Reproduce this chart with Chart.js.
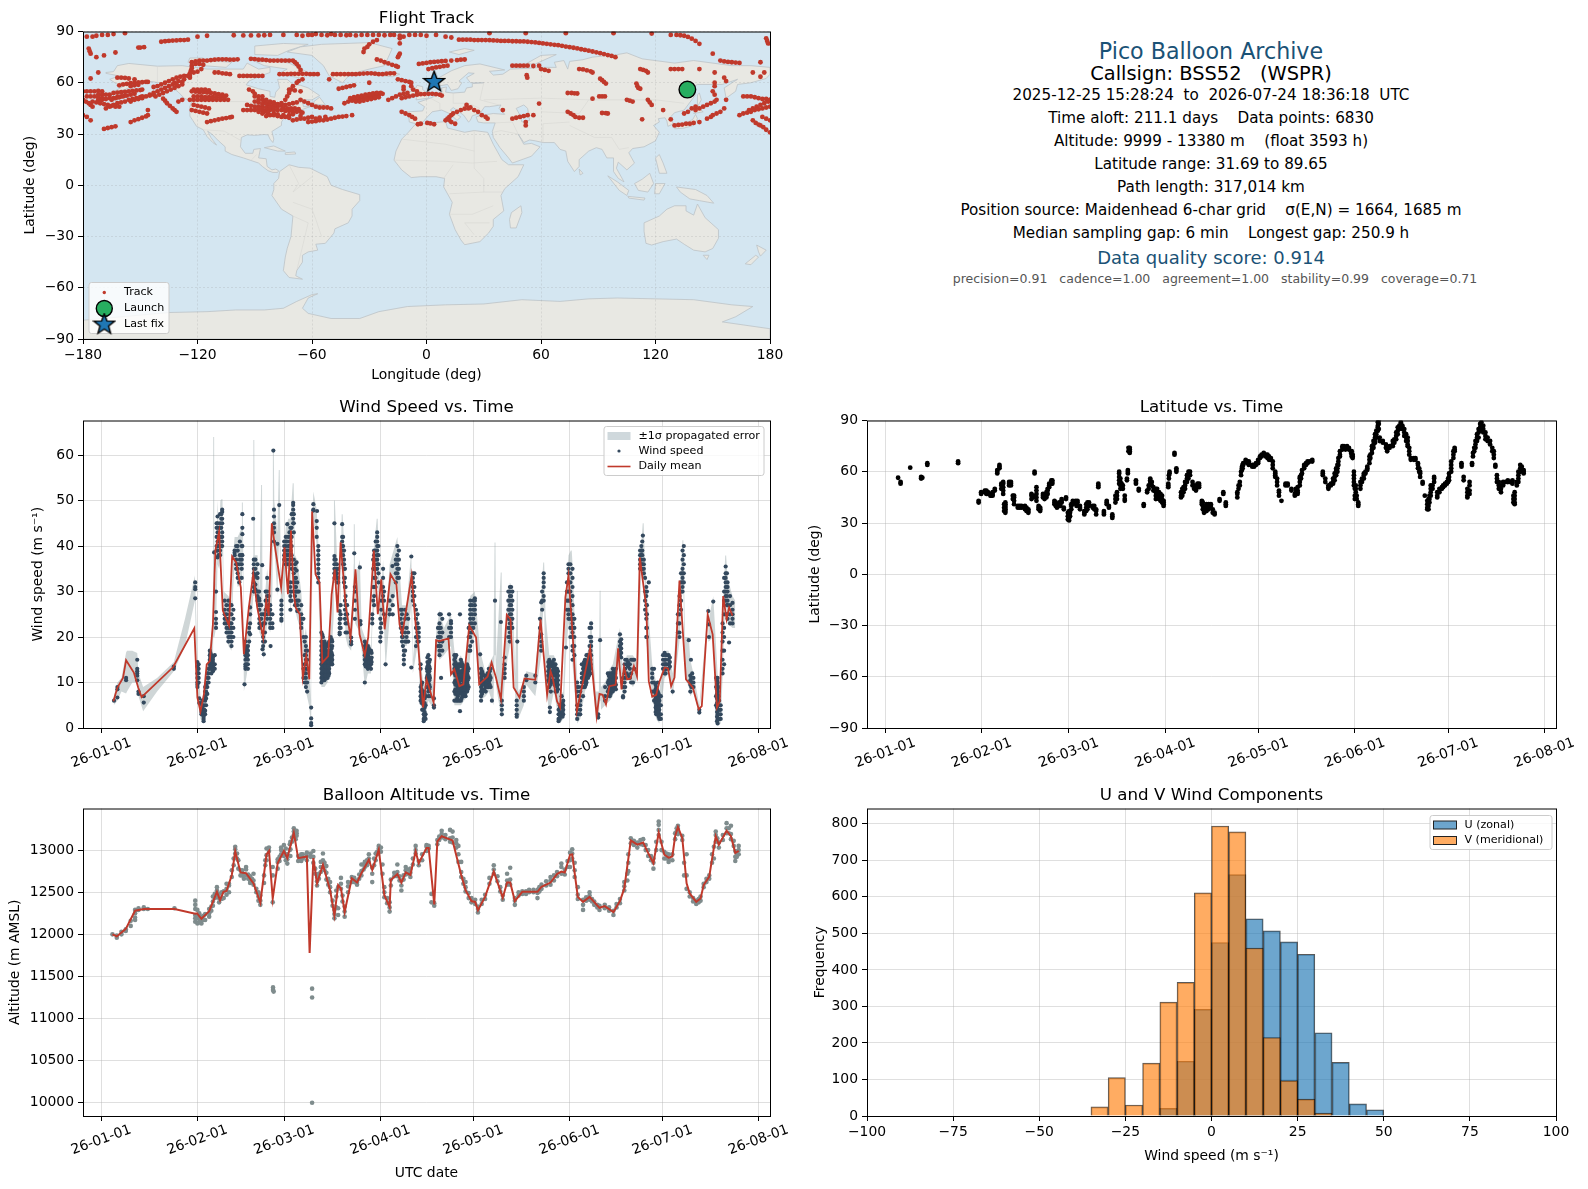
<!DOCTYPE html>
<html>
<head>
<meta charset="utf-8">
<title>Pico Balloon Archive</title>
<script src="https://cdn.jsdelivr.net/npm/chart.js@4"></script>
<style>
  html, body { margin: 0; background: #fff; }
  body { position: relative; width: 1588px; height: 1189px; overflow: hidden; font-family: "DejaVu Sans", sans-serif; }
  canvas { position: absolute; }
  .info { position: absolute; left: 1211px; transform: translate(-50%, -50%); white-space: pre; color: #000; font-size: 15.2px; }
</style>
</head>
<body>
<div class="info" style="top:51px;font-size:22.2px;color:#1a5276">Pico Balloon Archive</div>
<div class="info" style="top:73px;font-size:19.4px">Callsign: BSS52   (WSPR)</div>
<div class="info" style="top:95px">2025-12-25 15:28:24  to  2026-07-24 18:36:18  UTC</div>
<div class="info" style="top:118px">Time aloft: 211.1 days    Data points: 6830</div>
<div class="info" style="top:141px">Altitude: 9999 - 13380 m    (float 3593 h)</div>
<div class="info" style="top:164px">Latitude range: 31.69 to 89.65</div>
<div class="info" style="top:187px">Path length: 317,014 km</div>
<div class="info" style="top:210px">Position source: Maidenhead 6-char grid    σ(E,N) = 1664, 1685 m</div>
<div class="info" style="top:233px">Median sampling gap: 6 min    Longest gap: 250.9 h</div>
<div class="info" style="top:257px;font-size:18px;color:#1a5276">Data quality score: 0.914</div>
<div class="info" style="top:278px;left:1215px;font-size:12.5px;color:#555">precision=0.91   cadence=1.00   agreement=1.00   stability=0.99   coverage=0.71</div>

<script>
// ---- axis ticks
const monthTicks = [0, 31, 59, 90, 120, 151, 181, 212];
const monthLabels = ["26-01-01", "26-02-01", "26-03-01", "26-04-01", "26-05-01", "26-06-01", "26-07-01", "26-08-01"];
const lonTicks = [-180, -120, -60, 0, 60, 120, 180];
const latTicks = [-90, -60, -30, 0, 30, 60, 90];
const windTicks = [0, 10, 20, 30, 40, 50, 60];
const altTicks = [10000, 10500, 11000, 11500, 12000, 12500, 13000];
const histXTicks = [-100, -75, -50, -25, 0, 25, 50, 75, 100];
const histYTicks = [0, 100, 200, 300, 400, 500, 600, 700, 800];

// ---- histogram (5 m/s bins)
const binCenters = [-32.5, -27.5, -22.5, -17.5, -12.5, -7.5, -2.5, 2.5, 7.5, 12.5, 17.5, 22.5, 27.5, 32.5, 37.5, 42.5, 47.5];
const uCounts = [0, 0, 0, 0, 21, 150, 292, 475, 661, 540, 507, 477, 443, 228, 147, 33, 17];
const vCounts = [25, 105, 30, 145, 312, 366, 611, 794, 778, 460, 215, 97, 46, 8, 0, 0, 0];

// ---- wind speed: daily mean
const windMeanDays = [3.9,5.2,7,8,10.5,11.9,13,23.2,30,31,32,33.1,34,35,36,36.8,38,39.2,41.2,42.2,43.5,45,46,47.6,49,50.3,52.2,53.2,54,55,56.2,58,59.1,60.2,61.2,62.1,62.7,64,65,66.1,67.1,68,69.1,70.4,71.3,73.2,74.3,75.3,76.2,77.2,78.8,80.4,82,83.3,85,86.1,87.9,89.2,90.3,91.4,93.3,95.2,96.2,97.1,100.1,101.4,102.2,103.8,104.9,107.2,108,109.1,112,112.8,113.9,115.5,116.8,118.7,120.9,121.9,124.6,125.9,127.3,128.9,130.8,132,133,134.9,136.5,140,141.7,143.8,144.9,145.6,147,148,149.7,150.7,152.1,153.4,155,157.7,159.8,160.7,161.7,162.8,163.9,165.9,166.7,167.8,168.6,169.6,170.7,171.8,172.8,173.7,175.8,176.6,177.7,179,180.1,181.7,182.8,183.8,184.9,186.5,188.6,190.8,192.7,193.7,195.6,197.2,198.6,199.5,200.6,201.7,202.5,203.6];
const windMean = [5.9,8.9,11,14.9,12.2,8.9,6.8,13.4,21.9,6.7,3.6,7.4,14,14.7,22.8,39,43.2,25.8,22.5,37.7,36.4,30.9,16.2,26.5,33.8,26.5,19.9,28,24.7,45,39,30.9,39.7,29.4,43.4,29.4,26.5,25,11.1,15.8,10.7,47.6,33.8,32,14.4,15.8,29.4,34.9,25.4,40.8,27.2,19.9,34.9,20.6,16,19.9,39,25,32.7,21.7,33.8,31.6,22.8,20.6,33.5,22.8,18.4,4.5,10.7,5.6,19.3,19.1,19.7,11.8,12.9,9.2,9.6,22.5,19.9,9.6,11.3,14.4,11.1,6.3,24.9,23.9,8.9,6.7,10.9,10.6,23.9,7.3,12.5,11.1,5.9,4.5,28.7,33.5,19.9,3.7,8.9,17.5,2.6,7.5,7.3,5.2,9.2,9.5,17.5,8.5,13.4,10.7,10.9,13.6,11.4,37.5,26.5,10.3,6.9,7.3,10.3,13.3,13.1,9.2,11.1,32.4,10.7,8.9,4.1,4.8,24.9,20.6,4.5,5.9,29,23.9,26.5,24.7];

// ---- wind speed: +/-1 sigma band, each row: day, low, high
const windBand = [
[4,5,7],[5.2,6,10],[6.5,8,11],[8,7.6,16.6],[8.3,8,17],[10,10,17],[11.6,10,16.5],[12,7,12],[13.5,3.7,9],[18,8,11],[23.4,12.5,14.5],[27,18,24],[30.2,28,33.5],[30.6,18,25],[31,8,15.5],[32,2,7],[33,1,5],[34,6,13],[35,12,18],[36,13,23],[36.1,20,64],[36.4,20,64],[36.5,20,30],[37,22,34],[37.5,36,50],[38,35,42],[38.4,38,50],[38.8,38,50.3],[39.1,38,50.3],[39.5,24,30],[41,18,29],[42,17,28],[42.5,30,38],[43,36,42],[44,31,42],[45.3,32,44],[45.35,32,49.6],[45.65,37,49.6],[46,8,20],[47,12,20],[48,19,28],[49,29,38],[49.05,29,63.3],[49.35,29,63.3],[49.5,30,38],[50.4,26,38],[51,21,30],[51.55,20,53.4],[51.85,20,53.4],[52,20,26],[52.4,15,26],[53.5,23,35],[54.5,21,28],[55.2,30,44],[55.35,40,61],[55.65,40,61],[55.8,40,50],[56.8,29,43],[57.25,40,56.7],[57.55,40,56.7],[57.7,35,45],[58.1,22,30],[59.5,35,44],[60.3,35,46],[61,25,46],[61.75,44,53.8],[62.05,44,53.8],[62.5,26,38],[63.2,24,37],[64.5,21,30],[65.5,12,20],[66,8,22],[67,5,16],[67.7,0.5,6],[68,30,45],[68.4,46,52],[69.5,40,48],[70,31,41],[70.7,15,25],[71,9,22],[72,9,20],[73,10,19],[74,13,21],[75,25,36],[75.05,32,50],[75.35,32,50],[76,31,38],[76.9,20,27],[77.55,38,47],[77.85,38,47],[78.3,31,41],[78.8,20,33],[79.5,18,25],[80.6,17,21],[81.4,25,36],[81.45,30,44.8],[81.75,30,44.8],[81.9,23,33],[83.4,21,37],[84,17,22],[85,9,20],[86,12,19],[87,12,18],[87.4,22,26],[88,26,40],[88.85,34,46],[89.15,34,46],[90,18,26],[90.9,28,37],[91.7,13,22],[93,24,36],[95.5,32,42],[97,18,27],[98.5,18,27],[100,27,39],[100.5,12,15],
[102,18,26],[103,5,15],[104,1,9],[105.5,6,17],[107.3,4,8],[108,17,21],[109.1,15,26],[110.5,16,22],[112.8,18,25],[113.9,5,17],[115,5,15],[116,5,16],[117,6,14],[118,7,15],[119,16,29],[120.5,22,30],[122.2,6,17],[124,7,12],[125,8,14],[126.5,5,16],[126.85,16,40.8],[127.15,16,40.8],[127.4,9,15],[128.85,3,34.2],[129.15,3,34.2],[129.4,3,8],[130.1,10,17],[131,15,28],[131.8,18,32],[132.6,21,31],[133.5,7,12],[134.05,2,30.2],[134.35,2,30.2],[134.5,2,8],[136.3,5,10],[137.1,9.5,12.5],[140,7,12],[141.9,16,29],[142.55,26,36.4],[142.85,26,36.4],[143.3,10,25],[144.5,3,16],[146,8,16],[147,4,14],[148,1,7],[149,2,8],[149.9,16,29],[150.7,23,38],[151.45,20,39],[151.75,20,39],[152,14,36],[153.5,1,11],[154.5,2,9],[156,8,16],[157,10,17],[158,15,24],[159.5,2,8],[160.5,2,8],[160.75,6,30.2],[161.05,6,30.2],[161.2,4,9],[162.5,5,10],[164,6,13],[165,7,14],[167.3,15,22],[168.3,6,12],[169.5,11,16],[171.5,9,16],[173,11,14],[174.2,34,41],[174.65,33,45],[174.95,33,45],[175.3,32,38],[175.8,19,32],[177.7,7,14],[179,2,10],[180,1,8],[181.7,11,17],[183,12,17],[184.3,7,12],[186.5,19,30],[187.45,30,41.3],[187.75,30,41.3],[188.3,11,20],[189.5,9,20],[190,7,15],[191,8,12],[192.9,3,5],[195.8,24,27],[196,19,24],[197.4,20,29],[198.8,0.5,12],[199.8,1,6],[200.4,11,24],[201.25,27,37.9],[201.55,27,37.9],[202,23,33],[203.6,22,29],[204.5,22,28]
];

// ---- wind speed observations, each row: day, then the speeds seen on that day
const windObs = [
[4.1,6],[5.2,6.7,8.5,9],[8,10.5,11],[11.6,15,13,12.5,12,11.5,10.5],[12,8,7.5],[13.7,5.6,7],[23.4,13,13.5],
[30.3,32,31,30.5,28.5],[31,14.5,13.5,12,11,10,9.5,9],[31.6,6.5,5.5],[32.3,5.5,4,3.5,3],[33,3,2,1.5,2.5],[33.5,3,3.8,6,7,8,9],[34.2,7.5,9,10,11,12],[35,13,14,15,16,17],[36,12.5,13.5,15,15.5,14.5],[37,22,23,24,25.5,30],[36.4,38.6],
[37.5,37.5,39,40,41,43,46.5,45],[38.3,38,39,41,42,44,45,47],[39,45,46,47.5,48,43,42,41,40],[39.8,28,26,25,24,23],[41,28,26,24,22,21,20,19],[42,27,25,23,22,21,20,19,18],[43,38,39,38.5],[44,40,39,36,35,34,33],[45.3,40,38,37,36,35,33],[45.5,47,44,42.6,40,38],[44.5,32],
[46.2,9.6],[46.5,13,13.5,14,15,16,17,18,19],[47.3,13,14,15,16,17,18],[48,20.6,23,25,26.5],[49,46],[49.2,37,36,35,34,33,32,31,30],[50.4,36,34,33,30,29,28],[51,28,27,26,24,23,22],[52.2,25,23,21,20,19,18],[52,17.3],[51.9,35.8],[52.4,16.2],[54.6,18],
[53.5,33,30,29,28,26,25,24],[54.5,27,26,25,24,23,22],[55.5,61],[55.7,48,46.5,45,44,43,41],[57.4,49],[56.8,40.5,30.4],[58.1,28,27,26,25,24,23.6],[59.5,42,41,40,39,38,37,36],[60.3,42,40,39,38,36],[61,44,43,42,41,40,39,38,37,36,32,31,30,29,28,26],[60,44.8],[61.9,49.5,49,48,47,46,45],[62.5,36,35,33,32,31,30,29,27],[63,36.4,34.6],[63.2,32,30,28,27,25.7],[64.5,27,25,24,23,22],
[66,20,18,17,16,15,14,13,12,11,10,9],[67.7,4.5,2.1,1.1,0.6],[68.4,49.2,48,47.8],[69.6,47.7],[69.5,45.5,44,42],[70,40,39,38,37,36,35,34,33,32],
[71,21,19,18,17,16,15,14,13,12,11,10],[72,19,17,16,15,14,13,12,11,10.5],[73,18,16,15,14,13,12,11],[74,20,19,18,17,16,15,14],[75.2,45,37.8,37,36,35,34,33],[76,36,35,34,33,32],[76.9,25.7,24,23,22,21,20.6],[77.7,44.8,42,41,40,39],[78.3,39,37,36,35,33,32],[78.8,31,29,27,25,23,21],[80.6,19.9,19,18.4],[81.6,38.4],[81.8,31,30,28,26,24],[83.4,35.3],[83.6,23.5,22.8],
[85,19,18,17,16,15,14,10],[86,18,16,15,14,13],[87,17,15,14,13],[87.4,25,24,23],[88,39,38,37,36,35,33,31,29,27],[89,43,42,41,40,39,38,37,36,35],[90,24,22,20,19],[91.7,14],[90.9,35,33,31,29],[93,28,26,25],[95.5,40,38,37,36,35,34,33],[93.9,35.6],
[97,26,25,23,22,21,20,19],[98.5,25,22,20,19],[97.6,17,16,15,14],[100,37.7,13.3],[100.5,34,33,32,31,30,29,28],[102,25,23,22,21,20,19],
[102.4,22,21,20,19],[103,14,13,9,8,7,6],[104,8,7,5,4,3,2,1.5],[105.5,16,14,13,12,11,10,9,8,7],[107.3,6.5,5,4.5],[109.1,25,23,22,21,20,19,18,17,16],[109.6,11],[112.8,23.5,23,22,21,20],
[113.9,16,15,14,13,12,10,8,6],[115,14,13,12,11,10,9,8,7,6],[116,15,14,12,11,9,8,6],[117,13,12,11,10,9,8,7],[118,14,13,12,10,8],[115.7,25,3.7],[119,28,27,26,25,24,23,22,21,20,18,17],[120.5,28.5,28,27,26,25,23],[122.2,16.2],
[122.5,13,12,11,10,9,8,7,6],[124,11,10,9,8],[125,13,12,11,10,9],[127,28],[126,6],[128.9,23.3],[129.2,6,5,4,3],[130.1,15.5,14,13,12,11],[131.8,31,30,29,28,27,26,25,24,23,22,21,20,19],[132.6,30,28,26,24,22],[134.2,19],[134,6,5,4,3,2.5],[136.3,9,8,7,6],[137.1,11.5,10.5],[140,11.5,10],
[141.9,27.6,20.6,19,18,17],[142.7,34,33,32,31,29,28],[144.5,15,14,13,12,11,10,9],[144.7,4.5,3.5],[146,15,14,13,12,10],[147,13,12,11,10,9,8],[147.5,4,3,2,1.5],[149,6,5,4,3],[149.9,17.7],[150.7,36,35,34,32,30,28,26,25,24],[152,35,33,31,29,27,25,24,23,22,21,20,18,17,15],
[153.5,10,9,8,5,4,3,2],[154.5,8,6,5,4,3],[156,15,14,13,12,11,10,9],[157,16,15,14,13,12,11],[158,23,22,20,19,18,16],[160.9,19.3],[160.3,2.3,3],[162.5,9,7,6],[164,12,11,10,9,8,7],[165,13,12,11,10,9,8],[167.3,20.6,19,18,17,16],[168.3,11,9,7,6.7],[169.5,15,14,12],[171.5,15,10],
[174.2,40,39,38,37,36,35],[174.7,42.3],[175,37,36,35,34],[175.8,31,29,27,25,24,22,20],[176.6,32],[177.7,13,12,11,10,8],[179,9,8,7,6,5,4,3],[180,7,6,5,4,3,2],[181.7,16.5,15,14,13,12],[183,16,15,14,13],[184.3,8],
[186.5,29,27,25,23,21,20],[187.5,39,37,35,34,33,32,31,30],[189.5,19.3],[190.2,15],[190,11.5,10.5,9.5,8],[191,11,10,9],[192.9,3.4,4],[195.8,25.7],[197.4,27.8],[196,22.8,20],[198.8,11,10,8,6,5,4,3,2,1],[199.8,5,4,3,2],[200.4,23,21,19,17,15,13,12],[201.4,35.5,34,33,32,31,30,29,28],[202,32,31,30,28,27,25,24],[202.5,18.8],[203.6,27.5,26,25,24,23],
[31.4,14,13,12,11,10],[32.6,6,5,4.5],[33.2,4,3.5,5],[33.8,5,6.5,8,9.5],[34.6,10,11,12,13],[35.5,12,13,14,15,16],[36.6,13,14,16],[37.2,39,40,42,44,45],[37.8,38,40,41,42,44],[38.7,44,46,47,42,40],[40.4,27,25,24,23,22,21],[41.5,27,25,23,22,21,20],[42.6,26,24,22,20],[43.5,40,37,36,35],[44.7,41,38,37,36],[46.9,14,15.5,16.5,17.5],[47.7,19,21,22],[49.7,37,35,33.5,31.5,30.5],[50.9,30,28.5,27],[51.6,27,25,24,22.5],[52.8,25,23,21,19],[53,30,28,26],[54,29,27,25.5],[55.2,25,23,22],[59,41,40,39,38,37],[59.9,41,39,38,37,36],[60.7,43,41,40,38,37],[61.4,47,44,42,40,38,35,30,28],[62.1,47,45,43,37,34,32],[62.8,33,31,30,28],[63.7,30,28,26],[65.2,24,20,13,11],[65.6,19,16,14,12,10],[66.4,13,15,17,10,8],[71.5,20,18,17,16,15,14,13,12,11],[72.5,18,17,16,14,13,12,11],[73.5,19,17,16,15,14,13,12],[74.5,19,18,16,15,14],[75.6,37,36,34.5,33.5],[76.4,35,33,32],[77.2,27,25,24,22],[78,42,40,38,36],[78.6,35,33,31,28,26,24],[79.3,27,25,23,21],[85.5,18,17,16,15,14],[86.5,17,15.5,14.5,13.5],[87.7,37,35,31,28],[88.5,41,39,37,35,33,31],[89.4,40,38,36,34,32],[90.3,28,26,23,21],[91.2,30,28,25],[94,29,27,25],[95,37,36,34,32],[96,39,37,35,33],[96.6,26,24,22],[97.3,22,20,18],[98,26,24,21,19,17],[99,24,21,19],[101,34,31,29,27],[101.5,26,24,22,20,18],[103.5,10,8,6,4],[104.6,7,5,3,2],[105,13,11,9],[106,15,13,11,9,7],[108.6,22,20,18],[109.5,25,22,20,18],[110,24,21,19,17],[112.2,25,22,20],[114.5,16,14,12,10,8,6],[115.5,14,12,10,8,6],[116.5,14,12,11,9,7],[117.5,13,11,9,7],[118.5,22,20,17,13,11,9],[119.6,27,25,23,21,19],[120,28,26,24,22],[123,12,10,8],[124.6,12,10,9],[125.6,13,11,9],[131.3,30,28,26,24,22,20],[132.2,31,29,27,25,23],[141.5,24,22,20],[142.2,30,28,26],[145,14,12,10,8],[146.5,14,12,10,8],[147.9,5,3,2],[148.5,7,5,3],[150.2,32,30,28,26],[151.3,36,34,32,30,28,26,24,22,20],[152.6,24,22,20,18,16],[154,9,7,5,3],[155.4,7,9,11,13],[156.5,16,14,12,10],[157.5,22,20,18,16,14],[163.4,8,10,12],[164.6,12,10,8],[165.7,12,10,9],[168.8,14,12,10,8],[170.5,14,13,11],[173.8,38,37,36,35,39],[174.5,41,39,38,36,35],[175.4,33,30,28,26],[176,30,27,25,22,20],[178.3,13,10,8,6],[179.5,10,8,6,4,3],[180.5,7,5,3,2],[182.3,16,14,13],[186,25,23,21],[187,34,32,30,28,26],[187.9,40,38,36,34,32],[190.6,12,10,9],[198.3,11,9,7,5],[199.3,6,4,2],[200.9,33,30,28,25,22,20,17,14],[201.8,34,31,29,27,25],[202.8,29,27,25,23],
[71.3,20.5,18.5,17.5,16.5,15.5,14.5,13.5,12.5,11.5,10.5],[72.3,18.5,17.5,16.5,15.5,14.5,13.5,12.5,11.5],[73.3,18.5,16.5,15.5,14.5,13.5,12.5,11.5],[74.3,19.5,17.5,16.5,15.5,14.5],[85.3,18.5,17.5,16.5,15.5,14.5,13.5],[86.3,17.5,16.5,15.5,14.5,13.5],[87.2,16.5,15.5,14.5],[31.2,13,12,11,10],[35.2,13.5,14.5,15.5,16.5],[103.3,9.5,8.5,7.5,6.5,5.5],[104.3,7.5,6.5,5.5,4.5,3.5,2.5],[105.2,15.5,14.5,13.5,12.5,11.5,10.5],[105.8,14.5,13.5,12.5,11.5,10.5,9.5,8.5],[114.2,15.5,14.5,13.5,12.5,11.5,10.5,9.5,8.5,7.5],[114.8,13.5,12.5,11.5,10.5,9.5,8.5,7.5,6.5],[115.3,13.5,12.5,11.5,10.5,9.5,8.5,7.5],[116.2,14.5,13.5,12.5,11.5,10.5,9.5,8.5,7.5,6.5],[116.8,13.5,12.5,11.5,10.5,9.5,8.5,7.5],[117.3,13.5,12.5,11.5,10.5,9.5,8.5,7.5],[118.2,13.5,12.5,11.5,10.5,9.5,8.5],[122.8,12.5,11.5,10.5,9.5,8.5,7.5],[123.5,11.5,10.5,9.5,8.5],[124.3,11.5,10.5,9.5],[125.3,12.5,11.5,10.5,9.5],[144.2,14.5,13.5,12.5,11.5,10.5],[144.9,14.5,13.5,12.5,11.5,10.5,9.5],[145.6,14.5,13.5,12.5,11.5,10.5],[146.2,13.5,12.5,11.5,10.5,9.5],[147.3,12.5,11.5,10.5,9.5,8.5],[148,3.5,2.5,4.5],[148.8,5.5,4.5,3.5,2.5],[155,9,10,11,12,14],[155.7,14.5,13.5,12.5,11.5,10.5],[156.3,14.5,13.5,12.5,11.5,10.5,9.5],[157.3,15.5,14.5,13.5,12.5,11.5],[157.8,17,15,14,13,12],[163.7,11.5,10.5,9.5,8.5],[164.3,11.5,10.5,9.5,8.5,7.5],[165.3,12.5,11.5,10.5,9.5,8.5],[166,13,11,9.5,8.5],[167.7,19.5,18.5,17.5,16.5,15.5],[169,15,13,11,9],[169.9,14.5,13.5,11.5],[170.9,15,12,10],[171.9,15,13],[178.8,9.5,8.5,7.5,6.5,5.5,4.5,3.5],[179.2,8.5,7.5,6.5,5.5,4.5,3.5],[179.8,7.5,6.5,5.5,4.5,3.5,2.5],[181.2,16,15,14,13],[182,16,15,14,13,12],[183.4,15.5,14.5,13.5],[190.3,11,10,9],[198.6,10.5,9.5,8.5,7.5,6.5,5.5,4.5,3.5,2.5,1.5],[199.1,9,7,5,3,2]
];

// ---- latitude observations, each row: day, then latitudes
const latObs = [
[4.1,56.5],[4.9,53,54],[8,62.4],[11.5,56,57],[11.9,56.5],[13.5,64,65],[23.4,65,66],[30,42,43],[30.8,47,48],[32,48,49],[33,47,48],[33.8,46,47],[34.5,46,47,48],[35.2,49,50],[36,59,60,61],[36.7,62,63,64],[37.9,47,49,51,53,54],[38.6,36,37,38,39,40,41,42],[39.8,52,53,54],[40.4,52,53,54],[41.4,41,43,45,46],[42.6,39,40],[43.8,39,40],[44.9,38,39,40],[46,36,37,38],[47,44,46,47],[48,59,60],[48.6,43,45,47,49,51],[49.8,37,38,39],[50.7,45,46,47],[51.8,45,46,47,48],[52.7,51,52,53],[53.4,53,54,55],[54.4,41,42,43],[55.2,39,40,41],[56,40,41,42],[56.7,42,43,44],[57.4,38,39],[58.1,44,45],[59.1,31.5,33,35,37],[59.8,38,40,41],[60.3,41,42,43],[61.2,42,43],[61.8,42,43],[62.6,38,39,40],[64,35,36,37],[65.5,40,41,42],[66.7,39,40],[67.8,35,37,38],[68.5,51,52,53],[70.3,35,36,37],[71.2,41,42,43],[71.9,39,40],[73,33,34,35],[74,42,44,46],[75.2,53,55,57,59,60],[76,51,52,53],[77,43,44,46],[77.7,55,56],[78,59,60,61],[78.6,71,72,73,74],[80.6,53,54,55],[81.5,49,50],[83.1,40,41],[84.2,48,49],[85.2,54,55,56],[86.2,49,51],[87.4,45,46,48,50],[88.5,43,44,47],[89.5,40,41,42,43],[91,51,52,53],[91.4,59,60],[93,70,71],[93.6,60,61,62],[95.1,45,46,48],[95.9,48,50,51],[97,54,56,58],[98,58,60],[98.8,52,54],[99.9,49,50,51],[100.9,51,52,53],[101.8,41,42,43],[102.5,36,37,38,39],[104,38,39,40,41],[104.7,40,41],[105.9,35,36],[107.5,43,44],[108.7,47,48],[109.5,40,41,42],[113.2,45,47,48],[114,52,54],[114.4,58,60],[114.7,61,62,63],[115.1,64,65],[115.9,66,67],[116.9,64,65,66],[118,63,64],[119.2,64,65],[119.9,65,66,67],[120.5,68,69],[121.7,70,71],[122.9,68,69,70],[124,67,68],[125.4,57,58,59,60],[126.6,46,48,49],[127.4,43],[129.4,52,53],[130.6,49,50],[131.7,46,47],[132.6,47,48,49,51],[133.3,52,54,56,57],[134,59,61],[134.7,62,63,64],[135.8,65,66],[137.3,66,67],[140.7,58,59,60],[142.5,50,51,52],[143.3,52,53],[144,53,54,56],[145,58,60,61,62],[145.7,64,66,68],[146.2,69,70,72],[147,73,74,75],[148,73,74],[149.1,73,74],[149.8,71,72],[150.3,68,69,70],[150.7,52,54,56,58,60],[151.3,48,50,52],[152.1,40,41,42],[152.8,50,52,54],[153.9,56,58,59],[155,61,62,63],[155.7,65,67,69],[156.5,71,73,75],[157.5,77,79,80,82],[158.4,84,86,87,89],[158.7,85,88,90],[160,77,78],[161.4,72,73],[162.2,74,75],[163.2,75,76,78],[164.3,79,81,83],[165.3,85,87],[165.8,87,88,89],[166.9,81,83,85],[168,75,76,78,80],[169,67,68],[170.5,67,68],[171.3,62,64,65],[172,57,59,60],[172.8,53,54],[173.5,46],[174.3,38,39,41,43],[174.7,38,40,44],[175.4,46,48,50,52],[176.5,54,56,57],[177.5,45,46,48],[178.2,48,50],[179.4,51,52],[180.6,53,54],[181.3,55,57,59],[182,60,62,64,66],[182.7,68,70,72],[183.1,72,73,74],[185.3,63,64,65],[186,55,57],[187.2,45,46,48,50],[187.9,47,49,52,54],[188.7,64,65],[189,69,71],[189.8,74,76,78],[190.8,80,83,85],[191.7,86,87,89],[193,79,81,83],[194.5,76,78],[195.7,68,70,72],[196.2,63,64],[196.7,54,56,58],[198,48,50,52],[198.7,52,54],[200.2,54,55],[201.7,53,54,55],[202.4,41,42,44,46,48],[203.1,52,54],[204.2,60,62,64],[205.3,59,60,61],
[32.5,47,48,49],[34,46,47],[37.3,50,52,53],[38.2,37,39,41],[41,44,46],[43.2,39,40],[45.4,37,38,39],[47.6,45,46],[49.3,38,39,40],[51.2,44,45,46],[52.2,47,49,50],[53.7,54,55,53],[54.8,40,41,42],[56.3,40,42],[58.7,32,34,36],[59.4,34,36,37],[61.5,40,41,42],[64.6,37,39,41],[65,38,40,42],[67.2,38,40],[74.5,44,46,48],[75.6,50,52,54,56],[76.4,50,52],[78.2,72,74],[84.7,50,52],[85.7,52,54],[87,44,46,48,50],[88,44,46,48],[89,42,44,46],[91.2,56,58],[95.5,46,48,50],[96.4,50,52,54],[97.5,56,58,60],[99.3,50,52],[100.4,51,53],[102.1,38,40,42],[103.3,37,39,41],[105.3,36,38],[113.6,50,52],[114.9,62,64],[116.4,65,66],[118.6,63,64],[121,69,70],[122.3,69,70],[123.4,67,68,69],[124.6,62,64,66],[126,52,54,56],[128.7,52,53],[132,48,50],[133.7,56,58],[135.3,64,65],[136.5,66],[141.5,54,56],[144.5,55,57,59],[145.4,60,62,64],[147.5,74,75],[148.5,74,75],[150,69,70,72],[151,44,46,50],[151.6,44,46],[153.3,54,56],[154.4,59,60],[156,68,70],[157,74,76,78],[157.9,80,82,84],[159,78,80],[161,74,76],[163.7,77,79],[164.8,82,84,86],[166.3,85,86,87],[167.5,78,80,82],[168.5,70,72,74],[170,67,68],[171.7,60,62],[175,42,44,46],[176,50,52],[179,50,51],[180,52,53],[181,54,56],[189.4,72,74],[190.3,78,80,82],[191.3,84,86,88],[192.3,83,85,87],[193.7,78,80],[195.2,72,74],[197.3,50,52,54],[199.5,54],[201,54],[202,42,44,46],[203.6,54,56,58,60],[204.7,61,63]
];

// ---- altitude: daily mean
const altMeanDays = [3.6,5,7.9,10.9,13.7,23.6,30.3,30.9,32.3,34.8,37.3,38.3,39.4,40.4,42.1,43.2,44.9,46.7,49.1,51.3,53.3,54.1,55.3,56.9,58.9,60,62.1,63.5,66.3,67.2,68.4,69.6,71.5,73.8,75.2,76.4,77.3,78.5,80.8,82.5,83.9,86.3,87.4,89.5,91.3,93,93.4,95.5,96.8,98.2,99.7,101.4,102.4,104.9,105.6,107.4,108.4,109.8,113.3,116.1,117.5,119.4,120.6,121.5,123.8,126.6,129.5,130.9,131.9,133.4,135.8,140.7,142,144.9,147,148.4,149.5,151.2,151.9,153.7,155.4,157.5,160.7,162.4,165.2,167.3,168.7,170.8,172.9,174.8,176.4,178.1,179.8,181.6,183,184.2,185.1,186,187.4,188.8,189.8,191.9,193.3,194.3,196.1,198.2,199.2,201.7,203.1,204.5,205.6];
const altMean = [12000,11975,12065,12280,12300,12300,12245,12250,12185,12275,12505,12405,12505,12515,12705,12985,12735,12725,12605,12375,12950,12990,12425,12845,12990,12905,13205,12905,12925,11780,12905,12605,12825,12525,12225,12585,12545,12265,12665,12615,12725,12885,12765,13005,12465,12325,12645,12715,12615,12735,12705,12985,12845,13025,13025,12355,13105,13165,13115,12705,12525,12395,12385,12285,12445,12745,12435,12615,12615,12395,12505,12505,12565,12615,12715,12745,12735,12945,12950,12445,12385,12445,12315,12335,12265,12395,12545,13115,13065,13090,12965,12845,13205,12945,12910,12925,13165,13275,13145,12605,12485,12385,12425,12585,12685,13165,13065,13230,13165,12965,12990];

// ---- altitude observations, each row: day, then altitudes
const altObs = [
[3.6,12000],[5,11960,11985],[7.9,12040,12060],[10.9,12170,12200,12250,12290],[12,12290,12310],[13.7,12300,12320],[23.6,12310],[30.3,12150,12190,12230,12300,12350,12400],[31,12130,12210,12290],[32.3,12130,12170,12210],[33.5,12170,12240],[34.8,12210,12250,12300],[35.5,12280,12330],[37.3,12440,12520,12560],[38,12380,12430,12480],[38.8,12420,12500],[39.5,12430,12510],[40.4,12470,12540,12600],[41.2,12500,12580],[42.1,12680,12760],[42.7,12820,12900],[43.2,12960,13010,13040],[43.8,12900,12960],[44.2,12880,12780],[44.9,12700,12760],[46,12660,12710],[46.7,12700,12770,12800],[48,12610,12640,12690],[49.1,12590,12640,12720],[50,12500,12540],[51.3,12350,12400,12460],[52.5,12610,12700],[53.3,12880,12940,13020],[54.1,12990,13030],[55.3,12380,12700,12800],[56.9,12780,12860,12890],[58,12950,13000,13030],[58.9,12930,12980,13060],[60,12840,12890,12950],[61,12930,13010,13100],[62.1,13180,13220,13260],[63,13170,13230,13200],[63.5,12870,12930],[64.5,12870,12920,12950],[66.3,12880,12930,12970],[67.5,12920,12960],[68.4,12850,12920,12990],[69.6,12580,12630,12680],[70.8,12740,12800,12860],[71.5,12800,12880,12960],[72.6,12650,12730,12810],[73.8,12500,12560,12620],[75.2,12190,12240,12290],[76.4,12230,12310,12560],[77.3,12540,12600,12670],[78.5,12210,12270,12330],[80.8,12620,12680],[82.5,12590,12620,12640],[83.9,12700,12750,12830],[85,12800,12860],[86.3,12860,12900,12950],[87.4,12620,12720,12790],[88.5,12880,12960],[89.5,12990,13020,13050],[90.2,12980,13030],[91.3,12440,12500,12560],[93,12270,12320,12380],[93.4,12580,12650],[95.5,12690,12740,12830],[96.8,12520,12580,12640],[98.2,12710,12760,12800],[99.7,12680,12730,12780],[101.4,12960,13000,13050],[102.4,12820,12870],[104.9,12990,13040,13060],[105.6,13020,13050],[107.4,12340,12370],[108.4,13070,13120],[109.8,13150,13190,13230],[112.5,13100,13140,13240],[113.3,13090,13150,13220],[114.5,13030,13080,13120],[116.1,12680,12740,12860],[117.5,12510,12560,12620],[119.4,12380,12430],[120.6,12360,12410],[121.5,12260,12300,12330],[123.8,12420,12470],[126.6,12720,12770,12820],[129.5,12410,12460],[130.9,12590,12640,12720],[131.9,12590,12650,12790],[133.4,12350,12400,12430],[135.8,12480,12510],[138,12500,12530],[140.7,12430,12490,12530],[142,12540,12590],[144.9,12590,12640,12680],[147,12690,12740],[148.4,12720,12800,12840],[149.5,12710,12770],[151.2,12800,12880,12970],[151.9,12900,12960,13010],[152.7,12680,12760,12850],[153.7,12420,12470,12560],[155.4,12290,12350,12410],[157.5,12410,12460,12500],[159,12350,12390],[160.7,12290,12340],[162.4,12310,12350],[165.2,12230,12280],[167.3,12370,12420],[168.7,12520,12570,12620],[170,12750,12850,12950],[170.8,13080,13140],[172.9,13030,13090],[174.8,13060,13130],[176.4,12930,13000],[178.1,12780,12850,12900],[179.8,13180,13240,13300,13340],[181.6,12900,12980],[183,12860,12900,12950],[184.2,12880,12950],[185.1,13130,13200],[186,13190,13250,13290],[187.4,13120,13170],[188.8,12540,12700,12950],[189.8,12450,12500],[191.9,12360,12400],[193.3,12400,12450],[194.3,12560,12600],[196.1,12660,12700],[197,12850,12950],[198.2,13100,13180,13220],[199.2,13030,13090],[201.7,13200,13260,13320],[203.1,13130,13190,13290],[204.5,12870,12920,12990],[205.6,12950,13000,13050],
[6.5,12000,12030],[9.5,12160,12100],[15,12300],[31.6,12140,12180,12250],[33,12170,12220],[36,12340,12390,12450],[36.6,12430,12480],[41.2,12600],[45.5,12700,12760],[47.4,12660,12710],[48.6,12620,12660],[50.7,12400,12450,12500],[52.9,12820,12880],[57.5,12870,12920],[59.5,12880,12950,13020],[60.8,13000,13070],[61.5,13100,13150],[62.7,13130,13190],[64.5,12890],[65,12900,12950],[69,12720,12780],[70.2,12660,12720],[72,12760,12850],[73.2,12590,12660],[74.6,12340,12400],[75.8,12320,12450,12520],[77.8,12390,12460],[79.6,12500,12570,12620],[81.6,12620,12670],[83.2,12660,12710],[84.6,12770,12830],[85.7,12820,12880],[88,12820,12900],[89,12950,12980],[90.7,12720,12830],[92.2,12370,12430],[94.5,12690,12730],[96.2,12640,12690],[97.5,12650,12700],[99,12720,12770],[100.5,12830,12900],[103.5,12880,12950],[106.5,12380,12480],[109,13120,13160],[111,13130,13180],[115.2,12860,12950,13050],[116.8,12600,12660],[118.5,12430,12490],[122.7,12360,12410],[125.2,12600,12670],[127.8,12630,12690],[128.7,12510,12560],[134.6,12460,12500],[137,12480,12510],[139.4,12500,12530],[141.3,12510,12560],[143.5,12580,12630],[146,12640,12700],[150.4,12800,12870],[156.4,12400,12440],[158.3,12390,12420],[160,12320,12350],[163.8,12280,12320],[166.2,12320,12360],[169.7,12640,12720],[171.8,13060,13110],[173.9,13070,13120],[175.6,13000,13060],[177.3,12880,12930],[179,13000,13100],[180.7,13000,13100],[182.3,12900,12960],[185.6,13220,13260],[188,12700,12850],[190.9,12390,12430],[192.7,12380,12420],[195.2,12620,12660],[197.6,12900,13040],[198.7,13110,13140],[200.5,13120,13180],[202.4,13200,13260],[204,13050,13110],[205,12920,12960],
[55.4,11370,11340],[55.6,11320],[68,11355,11250,10000]
];

// ---- flight track on the map, each streak: lon,lat,lon,lat...
const trackStreaks = [
[-178,87,-175,87,-173,87.5,-170,88,-167,88,-164,88.5,-158,89,-101,87.8,-96,87.7,-92,87.7,-88,87.7,-85,87.8,-82,88,-75,88],
[-68,88,-65,87.5,-62,88,-60,88,-58,88.5,-55,88,-52,87.8,-50,88.5,-48,88,-45,88,-42,87.8,-40,88,-37,87.7,-34,88,-31,88,-28,88,-25,88,-22,87.8,-19,88,-17,88,-14,87.5,-12,87,-9,88,-6,88,-3,88,0,87.5,5,88,10,87,13,86.5],
[17,85.2,19,85.2,21,85.2,23,85.2,25,85,27,85,29,85,31,85,33,84.9,35,84.8,37,84.7,39,84.5,41,84.5,43,84.5,45,84.3,47,84.3,49,84.2,51,84.2,53,84,55,83.8,57,83.6,59,83.3,61,83,63,82.8,65,82.5,67,82.2,69,82,71,81.6,73,81.2,75,80.8,77,80.5,79,80.1,81,79.6,83,79.2,85,78.8,87,78.3,89,77.8,91,77.3,93,76.8,95,76.2,97,75.7,99,75],
[33,89,52,89,73,89,98,89,118,88.8,128,88,131,88,133,87.8,135,87.5,137,86.8,139,85.8,141,84.5,143,82.8,150,77,154,73,156,72.5,158,72.2,160,72,162,71.8,164,71.6,175,72,171,66,177,66,175,63.5,178,86,178.5,84.5,179,83],
[-151,80.6,-150,80.6,-148,80.8,-139,84,-137,84.3,-135,84.5,-133,84.7,-131,84.8,-129,85,-127,85,-125,85.2,-120,87,-115,87.5,-177,80,-176.5,78.5,-176,77,-173,75,-169,76,-163,77.7],
[-33,78,-32.5,80,-31,81,-30,82.5,-28,84,-26,85,-15,75,-14.5,76,-14,77,-14,86,-14,83,-26,73.6,-24,73,-22,72,-20,71.3,-18,70.5,-16,69.8,-15,69.3],
[-4,71,-2,71.3,0,71.6,2,72,4,72.2,6,72.4,8,72.6,10,72.8,13,73,16,73.2,18,73.5,20,73.6,1,68,3,68.5,5,69,7,69.3,9,69.7,11,70],
[45,70,47,70,49,70,51,70,53,70,56,69.8,59,70,60,68,62,67.5,64,67,52.5,64.4,52.8,63,80,68,82,67.8,84,67.3,86,66.7,87,66,91,62.4,92,61.5,93,60.5,94,59.5,110,59.5,110.5,58,111,57,112,56.5,112,68,113.5,67.5,115,67,116,66,128,68,130,68,132,68,134,68,143,68,151,66,156,63,157,61],
[74,54,76,54,77.5,53.8,79,53.7,87,50.7,90.5,52,92,52,93.5,52,105,50,106.5,49.5,108,49,116,50,117,48.5,118,47,59,47.8,40,44],
[74,43,75.5,42,77,41,78,40,80,39.5,82,39.5,92,42.3,94,42.2,95,42,113,38.6,124,44,128,38.6,45,39,47,39.5,49,40,51,40.5,53,41,56,41,52,35,52,37],
[130,35,132,35.3,134,35.5,136,36,138,36,140,36.5,143,37,141,44,143,45,145,46,147,47,149,48,151,49,152,50,147,39,149,40,150,41,152,42,154,43,156,45,151,60,151,58,150,55,151,53,157,50,135,42,137,43,139,45,141,46],
[166,52,168,52,170,52,172,51.5,174,51,176,50.5,178,50.5,180,50,169,44,171,45,173,46,175,47,177,48,179,49,180,50,164,41,166,42,168,42.5,170,43,172,44,174,44.5,176,45,178,45.5,180,46,171,38,172.5,36.5,174,35.5,175,35,176.5,34,178,32.5,180,31,176,40,178,39,180,38],
[-13,51,-11,51.5,-9,52,-7,52.5,-5,53,-3,53.3,-1,53.4,1,53.5,3,53.5,5,53.3,7,53,8,52.5,-20,50,-18,51,-16,52,-14,53,-12,53.5,-10,54],
[-43,48,-41,49,-39,49.5,-37,50,-35,50.5,-33,51,-31,51.5,-29,52,-27,52.5,-25,53,-23,53.5,-40,51,-38,51.5,-36,52,-34,52.5,-32,53,-30,53.3,-28,53.7,-26,54,-24,54,-46,56.5,-44,57,-42,57.5,-40,58,-38,58.5,-37,49,-35,49,-33,49.5,-31,50,-29,50.5,-27,51,-25,51.5],
[-49,65,-47,65,-45,65,-43,65,-41,65,-39,65,-37,65,-35,65.2,-33,65.4,-31,65.5,-29,65.5,-27,65.3,-25,65,-23,65,-21,65.3,-19,65.5,-17,65.5,-15,62,-13,61.5,-11,61,-9,60.5,-8,60,-12,56,-12,57.5,-30,60,-51,62,-8,58,-7,56,-5,55],
[-13,43,-11,42,-9,41,-7.5,40,-6,39,-4.5,35.7,-3,36,0.4,36.5,2,36.2,4,35.7,10,38,11,39,12,40,13,41,14,42,16,43,18,44,20,44.8,22,45,15,36,13,37,12,38,21,47,23,45.5,25,44,27,43,29,41,31,40,32,39],
[-62,37,-60,37.3,-58,37.5,-56,38,-54,38,-52,38.5,-50,39,-48,39.5,-46,40,-44,40.2,-42,40.5,-39,41,-58,39,-56,39.5,-53,40,-70,38,-68,38.5,-66,39,-64,39,-62,39.5,-60,40],
[-74,50,-73,52,-72,54,-71,56,-70,58,-68,60,-67,61,-65,62,-72,56,-69,55.5,-66,55],
[-96,44,-94,44,-92,44,-90,44,-88,44,-86,44,-84,44,-82,44,-80,44,-78,44,-76,44,-74,43.5,-72,43.5,-70,43,-68,43,-66,43,-65,42.5],
[-94,47,-92,46.5,-90,46,-88,46,-86,46,-84,45.5,-82,45.5,-80,46,-78,46,-76,46.5,-74,47,-72,47.5,-70,48,-68,48.5,-75,45,-73,45,-71,45,-69,45,-67,44.5],
[-88,45,-85,43,-83,42,-80,42,-78,41.5,-75,41,-72,41,-70,41.5,-66,40.5,-88,43,-86,42,-84,40.5,-82,41,-80,41,-78,40.5,-76,40,-74,40,-72,39.5],
[-93,56,-91,55,-90,53.5,-88,52,-86,50,-85,48.5,-83,47,-82,46,-80,45.5,-66,50,-64,49,-62,48,-60,47,-58,46,-56,45.5,-54,45.5,-52,45.5,-50,45,-90,49,-88,48.5,-86,47.5,-84,48,-82,48,-80,47.5,-78,47.5,-76,48,-90,52,-88,50,-86,52,-84,50,-82,49,-80,48.5],
[-77,65,-75,65,-73,65,-71,65.2,-69,65.2,-67,65.2,-65,65.2,-63,65.2,-61,65,-59,65,-57,65,-98,64,-96,64,-94,64,-92,64,-90,64,-88,64,-86,64,-111,66,-109,66,-107,65.5,-105,65.3,-103,65],
[-123,72,-121,72.5,-119,73,-117,73,-115,73,-113,73.3,-111,73.5,-109,73.7,-107,73.7,-105,73.7,-103,73.5,-101,73.5,-99,73.7,-92,74,-90,73.8,-88,73.5,-86,73.5,-84,73.3,-82,73,-80,73,-78,73,-76,73,-74,73,-72,73,-70,73,-69,72,-68,71,-67,69.5,-66,67.5],
[-123,70,-123,68.5,-123.5,67,-124,65.5,-124,64,-124,63,-121,71,-119,71,-117,70.5,-122,66,-120,66.5,-118,68],
[-123,55,-121,54.8,-119,54.5,-117,54.5,-115,54.3,-113,54,-111,53.7,-109,53.3,-107,53,-105,52.5,-124,50,-122,50,-120,50,-118,50,-116,50,-114,50,-112,50,-110,50,-108,50,-106,50,-104,50,-123,44,-121,43.5,-119,43,-117,42.5,-115,42,-115,37,-113,37.5,-111,38,-109,38.5,-107,39,-105,39.3,-103,39.7,-102,40,-122,56,-120,56,-118,56,-116,56,-114,55.5,-122,52,-120,52,-118,52,-116,51.5,-114,51.5,-112,51.5,-110,51.5,-108,51.5,-106,51.5,-122,47,-120,46.5,-118,46,-116,45.5,-114,45],
[-155,37,-153,38,-151,38.7,-149,39.5,-147,40.3,-146,41,-169,33,-167,33.5,-165,34,-163,34.5,-180,41,-178,40,-176,38,-180,55,-178,55,-176,55,-174,55,-172,55.2,-170,55,-172,53,-170,53,-168,53,-166,53,-172,50,-170,50,-168,50.5,-166,51,-164,51,-162,51.5,-160,52,-158,52.5,-178,52,-176,52,-174,52,-172,51.5,-170,51],
[-180,50,-178.5,49,-177,48,-176,47,-175,46,-175,49,-173,48.5,-171,48,-169,47.5,-167,47,-165,46.5,-163,46,-161,46,-168,45,-166,46,-164,47,-162,48,-160,48.5,-158,49,-156,50,-154,50.5,-152,51,-150,51.5,-149,52,-155,49,-153,50,-151,50.5,-149,51,-147,52,-145,52.5,-143,53],
[-164,54,-162,54.2,-160,54.5,-158,54.7,-156,55,-154,55.3,-152,55.5,-150,55.7,-149,56,-161,58.5,-159,59,-157,59.3,-155,59.7,-153,60,-151,60.2,-149,60.3,-147,60.5,-146,60.5],
[-143,57.5,-141,58,-139,59,-137,60,-135,61,-133,62,-131,63,-129,63.5,-127,64,-125,64,-145,53,-143,54,-141,55,-139,56,-137,57,-135,58,-133,59,-132,60,-138,50.7,-137,49.5,-136,48,-134.5,46.5,-133,45,-132,44,-131,43,-146,44,-130,49,-128,50,-142,52,-140,53,-138,54,-136,55,-134,56,-132,57,-130,58,-127,62,-128,60.5,-128,59,-130,61,-131,59],
[-172,66,-176,62.5,-162,63,-160,63,-158,62.8,-156,62.5,-153,62,-155,58,-153,58.5,-151,58.8,-165,50,-163,51,-161,51.5,-159,52,-157,52.5,-155,53,-153,53.5]
];

// ---- land polygons for the base map, lon,lat,lon,lat...
const landPolygons = [
[-168,66,-164,66.5,-162,70,-156,71.3,-141,69.7,-128,70,-115,68,-108,68,-96,68,-94,71.5,-88,68,-82,69,-82,66,-87,64,-93,61,-94.5,58.8,-88,56.5,-82,55,-82,52,-79.5,51.5,-79,54.5,-77,57,-78,62,-73,62,-70,59,-66,58.5,-62,57,-56,52.5,-60,50,-66,50,-70,47,-65,49,-64.5,46,-61,46,-66,44,-70,43.5,-70,41.5,-74,40.5,-76,37,-76,35,-81,31.5,-80,27,-80.5,25,-82,27,-83,29.5,-85,29.7,-90,29.2,-94,29.5,-97,28,-97.5,22.5,-95,18.7,-91,18.7,-90.5,21,-87,21.5,-88,16,-84,15.5,-83.5,11,-81,9,-79,9.5,-77.5,8.5,-78,7.5,-80.5,7.5,-83,8.5,-86,11,-88,13,-92,14.5,-96,16,-102,18,-105.5,20,-105.5,22.5,-109,26,-112.5,30,-114.7,31.7,-113,28,-110,23.5,-112,25,-115,28.5,-117,32.5,-120.5,34.5,-122.5,38,-124,40.5,-124,46,-123,49,-127,51,-130,54.5,-134,58,-140,60,-146,61,-152,59,-158,56,-164,54.7,-158,58.5,-162,59,-166,62,-161,64,-168,65.5],
[-80,73,-72,71.5,-62,66,-65,62.5,-72,64,-78,65,-73,68,-85,70,-89,72],
[-117,70,-105,69,-102,72,-115,73],[-90,76.5,-78,76,-72,79,-62,82.5,-75,83,-90,81.5],[-125,72,-118,72,-117,74.5,-124,74.5],[-59,47.5,-53,47,-56,51.5,-59,49],[-85,22,-80,23,-74,20,-78,20],[-74,19,-69,19.5,-68.5,18.3,-74,18],
[-73,78,-60,76,-54,70,-51,64,-44,60,-40,65,-30,68,-22,70,-20,75,-18,80,-30,83.5,-55,82.5,-66,81],
[-24,65.5,-18,66.5,-14,65,-18,63.5,-22,64],[-5.5,50,1,51,1.5,53,-2,56,-2,57.7,-5,58.5,-6,56,-3,54,-5,52],[-10,52,-6,52,-6,55,-8,55,-10,54],
[-77,8,-72,12,-67,10.5,-61,10,-52,5,-50,0,-44,-2.5,-35,-5.5,-35,-9,-39,-14,-39,-18,-41,-22,-48,-25.5,-48.5,-28,-53,-34,-58,-34.5,-57,-38,-62,-39,-65,-41,-65,-45,-68,-50,-68.5,-53,-65,-55,-72,-54,-75,-50,-74,-42,-73,-37,-71,-30,-70,-18,-76,-14,-81,-6,-80,-2.5,-80,1,-77.5,4],
[-6,35.5,10,37.3,11,33.5,20,31,25,32,32,31,32.5,30,35,24,37,20,39.5,15,43,12,51,12,48,5,41,-2,39,-6,40.5,-15,35,-20,35,-24,32.5,-28,28,-33,20,-34.8,18,-32,15,-26,12,-17,13.5,-10,9,-1,9.5,4,5,5,-3,5,-8,4.5,-13,9,-17,14.7,-16,20,-13,27,-9.5,31],
[-9,37,-9.5,43,-2,43.5,-1,46,-4.5,48.5,2,51,4,52,8,54,8,57,10.5,57.5,10,54.5,14,54,20,54.5,21,57,24,57.5,24,59.5,30,60,23,60,21,63,25,65.5,22,65.8,17,61,18.5,60,16.5,56.5,13,55.5,11,59,6,58,5,62,13,67,20,70,28,71,41,67.5,33,66.7,35,64.5,40,65,44,68,54,68.5,60,69,68,69,67,72,72,73,74,68,75,72.5,82,73.5,87,75,100,76.5,105,77.5,113,74,130,71.5,140,73,160,70,170,70,180,69,180,65,178,62.5,170,60,163,59,162,55,157,51,156,57,163,62,155,59,142,59,135,54.5,141,53,135,44,130,42.5,127.5,39.5,129.5,36,126.5,34.5,126,37.5,125,39.5,121.5,39,122,37,119,35,122,31,120,26,114,22.5,108,21.5,106,19,109,13,105,9,103,11,100.5,13.5,99.5,10,103.5,2,100.5,4,98,8,98,16,94.5,16,92,21,89,22,85,20,80,15,80,11,77.5,8,74,14,73,20,70,21,67,25,61,25,57,26,54,26.5,51,25,48,30,51,24,55,24.5,59.5,22.5,55,17,45,13,43,16,38.5,22,35,28,34.5,31.5,36,36.5,30,36.5,27,37,26,40,29,41,35,42,41,41.5,38,45,39,47,33,46,30.5,46,28,42,24,40.7,23,38,22,37,19.5,41,14,45.5,12.5,44,18,40,16,38,12,42,8,44,3,43,0,39.5,-2,36.7,-5.5,36],
[130,33,135,33.5,140,35,142,39,141,41.5,139.5,38.5,135,35.7,131,34.3],[140,42,145,43,142,45.5],[142,46,144,50,143,54,142,53,142,47],[120,16,122,18,124,13,126,7,122,7],[109,1,113,3.5,117,7,119,1,116,-4,111,-3],[95,5.5,100,2,106,-3,105,-6,101,-3],[105.5,-6.5,114.5,-7.5,114,-8.7,106,-7.5],[120,1,125,1,122,-5,119.5,-5],[131,-1,141,-2.5,147,-6,150.5,-10.5,143,-9,138,-8,133,-4],[80,9.5,82,7,80.5,6],[49.5,-12,50,-16,47,-25,44,-25,43.5,-20,44.5,-16],
[114,-22,122,-18,126,-14,130,-12,136,-12,136,-15,140,-17.5,142,-11,146,-19,153,-26,153,-31,150,-37,146,-39,140,-38,135,-34.5,131,-31.5,124,-33,118,-35,115,-34,114,-27],
[145,-41,148,-41,147,-43.5],[173,-35,178,-38,175,-41.5,174,-39],[172.5,-41,174,-42,170,-46.5,167,-46],[12,78,20,80,25,79,17,76.5],[52,71,57,71,68,76.5,60,76],
[-180,-79,-160,-77,-150,-76,-135,-74.5,-115,-74,-100,-73,-85,-73,-75,-72,-68,-68,-60,-64,-57,-63.5,-62,-66,-65,-72,-62,-75,-50,-78,-35,-78,-25,-74,-10,-71,10,-70,30,-69.5,50,-67,70,-68,85,-66.5,100,-66,120,-66.5,140,-67,160,-70,171,-71,162,-77,155,-80,180,-84,180,-90,-180,-90]
];
const lakePolygons = [[47,45,51,47,53,45,54,38,50,37,49,41],[-92,47,-85,48,-80,45,-77,43.7,-82,42,-88,42,-87,46]];
const borderLines = [
[-123,49,-95,49,-83,46,-75,45,-67,47],[-141,69.7,-141,60],[-117,32.5,-106,31.7,-97,26],[-92,14.5,-89,18],
[-70,-10,-60,-14,-58,-20,-55,-30],[-70,-4,-60,5],[-72,12,-67,1,-70,-4],[-70,-18,-62,-22,-68,-50],
[-13,27,10,24,25,20,25,32],[-17,14.7,10,14,24,13,37,14],[9,4,14,12],[12,-5,30,-4,40,-4],[12,-17,24,-17,35,-12],[25,-29,20,-22,33,-22],[25,20,25,10,30,4,30,-4],
[2,51,7,48,7,44],[14,54,14,48,22,48,28,45],[30,60,28,50,38,47],[30,50,60,51,85,50,120,50,135,48],[75,35,88,28,97,28],[97,28,101,21,106,22],[61,25,61,36,75,37],[36,36.5,45,37,48,30],[35,31,39,32,48,30],[60,43,80,42,85,50]
];

const FONT = "'DejaVu Sans', sans-serif";
const INK = "#000";
const GRID = "rgba(176,176,176,0.4)";
const RED = "#c0392b";
const SLATE = "#34495e";
const STEEL = "#7f8c8d";
const GREEN = "#27ae60";
const BLUE = "#1f77b4";

Chart.defaults.font.family = FONT;
Chart.defaults.font.size = 13.9;
Chart.defaults.color = INK;
Chart.defaults.devicePixelRatio = 1;

const flatObs = (rows) => rows.flatMap((r) => r.slice(1).map((v) => ({ x: r[0], y: v })));
const zipXY = (xs, ys) => xs.map((x, i) => ({ x, y: ys[i] }));
const pairs = (flat) => {
  const out = [];
  for (let i = 0; i < flat.length; i += 2) out.push({ x: flat[i], y: flat[i + 1] });
  return out;
};

function starImage(size) {
  const c = document.createElement("canvas");
  c.width = c.height = size;
  const g = c.getContext("2d");
  const R = size / 2 - 1.2, r = R * 0.42;
  g.beginPath();
  for (let i = 0; i < 10; i++) {
    const a = -Math.PI / 2 + (i * Math.PI) / 5, d = i % 2 ? r : R;
    g.lineTo(size / 2 + d * Math.cos(a), size / 2 + d * Math.sin(a));
  }
  g.closePath();
  g.fillStyle = BLUE;
  g.fill();
  g.lineWidth = 1.4;
  g.strokeStyle = "#000";
  g.stroke();
  return c;
}
const STAR = starImage(24);

const framePlugin = {
  id: "frame",
  afterDraw(chart) {
    const { ctx, chartArea: a } = chart;
    ctx.save();
    ctx.strokeStyle = "#000";
    ctx.lineWidth = 1;
    ctx.strokeRect(a.left + 0.5, a.top + 0.5, a.width, a.height);
    ctx.restore();
  },
};

// rotated labels centred under their tick, which ticks.maxRotation cannot do
const monthLabelPlugin = (offset) => ({
  id: "monthLabels",
  afterDraw(chart) {
    const { ctx, chartArea: a, scales } = chart;
    ctx.save();
    ctx.fillStyle = INK;
    ctx.font = "13.9px " + FONT;
    ctx.textAlign = "center";
    ctx.textBaseline = "middle";
    monthTicks.forEach((t, i) => {
      ctx.save();
      ctx.translate(scales.x.getPixelForValue(t), a.bottom + offset);
      ctx.rotate((-20 * Math.PI) / 180);
      ctx.fillText(monthLabels[i], 0, 0);
      ctx.restore();
    });
    ctx.restore();
  },
});

const legendPlugin = (box, items) => ({
  id: "boxLegend",
  afterDatasetsDraw(chart) {
    const { ctx, chartArea: a } = chart;
    const x0 = a.left + box.x, y0 = a.top + box.y;
    ctx.save();
    ctx.beginPath();
    ctx.roundRect(x0, y0, box.w, box.h, 2.5);
    ctx.fillStyle = "rgba(255,255,255,0.8)";
    ctx.fill();
    ctx.strokeStyle = "#ccc";
    ctx.lineWidth = 1;
    ctx.stroke();
    ctx.font = "11.1px " + FONT;
    ctx.textBaseline = "middle";
    items.forEach((it) => {
      const hx = x0 + box.handle, ty = y0 + it.y;
      if (it.kind === "patch") {
        ctx.globalAlpha = it.alpha || 1;
        ctx.fillStyle = it.color;
        ctx.fillRect(hx, ty - 4, 23, 8);
        ctx.globalAlpha = 1;
        if (it.edge) { ctx.strokeStyle = it.edge; ctx.strokeRect(hx, ty - 4, 23, 8); }
      } else if (it.kind === "line") {
        ctx.strokeStyle = it.color;
        ctx.lineWidth = 1.6;
        ctx.beginPath(); ctx.moveTo(hx, ty); ctx.lineTo(hx + 23, ty); ctx.stroke();
      } else if (it.kind === "dot") {
        ctx.fillStyle = it.color;
        ctx.beginPath(); ctx.arc(hx + 11.5, ty, it.r, 0, 2 * Math.PI); ctx.fill();
        if (it.edge) { ctx.strokeStyle = it.edge; ctx.lineWidth = 1.4; ctx.stroke(); }
      } else if (it.kind === "star") {
        ctx.drawImage(STAR, hx + 11.5 - 12, ty - 12);
      }
      ctx.fillStyle = "#000";
      ctx.fillText(it.label, x0 + box.text, ty);
    });
    ctx.restore();
  },
});

const basemapPlugin = {
  id: "basemap",
  beforeDraw(chart) {
    const { ctx, chartArea: a, scales: { x, y } } = chart;
    const trace = (flat) => {
      ctx.beginPath();
      for (let i = 0; i < flat.length; i += 2) ctx.lineTo(x.getPixelForValue(flat[i]), y.getPixelForValue(flat[i + 1]));
    };
    ctx.save();
    ctx.beginPath();
    ctx.rect(a.left, a.top, a.width, a.height);
    ctx.clip();
    ctx.fillStyle = "#d4e6f1";
    ctx.fillRect(a.left, a.top, a.width, a.height);
    ctx.lineWidth = 0.8;
    ctx.strokeStyle = "#bdc3c7";
    landPolygons.forEach((p) => {
      trace(p);
      ctx.closePath();
      ctx.fillStyle = "#e8e8e3";
      ctx.fill();
      ctx.stroke();
    });
    lakePolygons.forEach((p) => {
      trace(p);
      ctx.closePath();
      ctx.fillStyle = "#d4e6f1";
      ctx.fill();
      ctx.stroke();
    });
    ctx.lineWidth = 0.5;
    ctx.strokeStyle = "#d5d5d0";
    borderLines.forEach((p) => { trace(p); ctx.stroke(); });
    ctx.restore();
  },
};

const fixedTicks = (values) => (s) => { s.ticks = values.map((v) => ({ value: v })); };
const minusLabel = (v) => String(v).replace("-", "\u2212");
const plainLabel = (v) => String(v);

function makePanel(p) {
  const TITLE_H = 22.5, RIGHT = 22;
  const canvas = document.createElement("canvas");
  canvas.width = p.box.w + p.yWidth + RIGHT;
  canvas.height = Math.round(p.box.h + TITLE_H + p.xHeight);
  canvas.style.left = p.box.x - p.yWidth + "px";
  canvas.style.top = Math.round(p.box.y - TITLE_H) + "px";
  document.body.appendChild(canvas);
  const timeAxis = !p.xTicks;
  const gridOpts = { color: p.gridColor || GRID, tickColor: INK, tickLength: 5, lineWidth: 1, offset: false };
  return new Chart(canvas, {
    type: p.type || "scatter",
    data: { datasets: p.datasets },
    plugins: p.plugins,
    options: {
      responsive: false,
      animation: false,
      events: [],
      layout: { autoPadding: false, padding: { right: RIGHT } },
      plugins: {
        legend: { display: false },
        tooltip: { enabled: false },
        title: { display: true, text: p.title, fullSize: false, color: INK, font: { size: 16.67, weight: "normal" }, padding: { top: 0, bottom: 2.5 } },
      },
      scales: {
        x: {
          type: "linear", offset: false,
          min: p.xRange[0], max: p.xRange[1],
          afterBuildTicks: fixedTicks(p.xTicks || monthTicks),
          afterFit: (s) => { s.height = p.xHeight; },
          grid: gridOpts,
          border: { display: false, dash: p.gridDash },
          title: { display: !!p.xTitle, text: p.xTitle, padding: 0, font: { size: 13.9 } },
          ticks: timeAxis
            ? { display: false }
            : { autoSkip: false, maxRotation: 0, padding: 3, callback: minusLabel },
        },
        y: {
          min: p.yRange[0], max: p.yRange[1],
          afterBuildTicks: fixedTicks(p.yTicks),
          afterFit: (s) => { s.width = p.yWidth; },
          grid: gridOpts,
          border: { display: false, dash: p.gridDash },
          title: { display: true, text: p.yTitle, padding: 0, font: { size: 13.9 } },
          ticks: { autoSkip: false, padding: 4, callback: p.yTicks[0] < 0 ? minusLabel : plainLabel },
        },
      },
    },
  });
}

const X_DAYS = [-5.9, 215.7];

// ---- flight track
makePanel({
  box: { x: 83, y: 31, w: 687, h: 307 },
  yWidth: 61, xHeight: 45,
  title: "Flight Track", xTitle: "Longitude (deg)", yTitle: "Latitude (deg)",
  xRange: [-180, 180], yRange: [-90, 90], xTicks: lonTicks, yTicks: latTicks,
  gridColor: "rgba(150,150,150,0.22)", gridDash: [2, 2],
  plugins: [basemapPlugin, framePlugin, legendPlugin({ x: 6, y: 251, w: 80, h: 51, handle: 3.8, text: 35 }, [
    { kind: "dot", label: "Track", color: RED, r: 1.7, y: 10 },
    { kind: "dot", label: "Launch", color: GREEN, edge: "#000", r: 8, y: 26 },
    { kind: "star", label: "Last fix", y: 42 },
  ])],
  datasets: [
    { label: "Last fix", data: [{ x: 4, y: 60.5 }], pointStyle: STAR, pointRadius: 12 },
    { label: "Launch", data: [{ x: 136.7, y: 56 }], pointRadius: 8.3, backgroundColor: GREEN, borderColor: "#000", borderWidth: 1.4 },
    { label: "Track", data: trackStreaks.flatMap(pairs), pointRadius: 2.4, borderWidth: 0, backgroundColor: RED },
  ],
});

// ---- wind speed
makePanel({
  box: { x: 83, y: 420, w: 687, h: 307 },
  yWidth: 53, xHeight: 60,
  title: "Wind Speed vs. Time", yTitle: "Wind speed (m s\u207B\u00B9)",
  xRange: X_DAYS, yRange: [0, 67.6], yTicks: windTicks,
  plugins: [framePlugin, monthLabelPlugin(25), legendPlugin({ x: 521, y: 6, w: 160, h: 49, handle: 3.5, text: 34.5 }, [
    { kind: "patch", label: "\u00B11\u03C3 propagated error", color: "#cfd8dc", y: 9.5 },
    { kind: "dot", label: "Wind speed", color: SLATE, r: 1.6, y: 24.5 },
    { kind: "line", label: "Daily mean", color: RED, y: 40 },
  ])],
  datasets: [
    { label: "Daily mean", data: zipXY(windMeanDays, windMean), showLine: true, pointRadius: 0, borderColor: RED, borderWidth: 1.8 },
    { label: "Wind speed", data: flatObs(windObs), pointRadius: 2.1, borderWidth: 0, backgroundColor: SLATE },
    { label: "\u00B11\u03C3 propagated error", data: windBand.map((r) => ({ x: r[0], y: r[2] })), showLine: true, pointRadius: 0, borderWidth: 0, borderColor: "transparent", fill: "+1", backgroundColor: "rgba(149,165,166,0.45)" },
    { label: "band low", data: windBand.map((r) => ({ x: r[0], y: r[1] })), showLine: true, pointRadius: 0, borderWidth: 0, borderColor: "transparent" },
  ],
});

// ---- latitude
makePanel({
  box: { x: 867, y: 420, w: 689, h: 307 },
  yWidth: 60, xHeight: 60,
  title: "Latitude vs. Time", yTitle: "Latitude (deg)",
  xRange: X_DAYS, yRange: [-90, 90], yTicks: latTicks,
  plugins: [framePlugin, monthLabelPlugin(25)],
  datasets: [
    { label: "Latitude", data: flatObs(latObs), pointRadius: 2.4, borderWidth: 0, backgroundColor: "#000" },
  ],
});

// ---- altitude
makePanel({
  box: { x: 83, y: 808, w: 687, h: 307 },
  yWidth: 76, xHeight: 66,
  title: "Balloon Altitude vs. Time", xTitle: "UTC date", yTitle: "Altitude (m AMSL)",
  xRange: X_DAYS, yRange: [9843, 13494], yTicks: altTicks,
  plugins: [framePlugin, monthLabelPlugin(24)],
  datasets: [
    { label: "Daily mean", data: zipXY(altMeanDays, altMean), showLine: true, pointRadius: 0, borderColor: RED, borderWidth: 2 },
    { label: "Altitude", data: flatObs(altObs), pointRadius: 2.3, borderWidth: 0, backgroundColor: STEEL },
  ],
});

// ---- U / V histogram
makePanel({
  type: "bar",
  box: { x: 867, y: 808, w: 689, h: 307 },
  yWidth: 55, xHeight: 49,
  title: "U and V Wind Components", xTitle: "Wind speed (m s\u207B\u00B9)", yTitle: "Frequency",
  xRange: [-100, 100], yRange: [0, 842], xTicks: histXTicks, yTicks: histYTicks,
  plugins: [framePlugin, legendPlugin({ x: 563, y: 7, w: 122, h: 34, handle: 3.5, text: 34.5 }, [
    { kind: "patch", label: "U (zonal)", color: BLUE, alpha: 0.65, edge: "#222", y: 9.5 },
    { kind: "patch", label: "V (meridional)", color: "#ff7f0e", alpha: 0.65, edge: "#222", y: 25 },
  ])],
  datasets: [
    { label: "V (meridional)", data: zipXY(binCenters, vCounts), grouped: false, barPercentage: 1, categoryPercentage: 1, backgroundColor: "rgba(255,127,14,0.65)", borderColor: "rgba(0,0,0,0.65)", borderWidth: 1 },
    { label: "U (zonal)", data: zipXY(binCenters, uCounts), grouped: false, barPercentage: 1, categoryPercentage: 1, backgroundColor: "rgba(31,119,180,0.65)", borderColor: "rgba(0,0,0,0.65)", borderWidth: 1 },
  ],
});
</script>
</body>
</html>
